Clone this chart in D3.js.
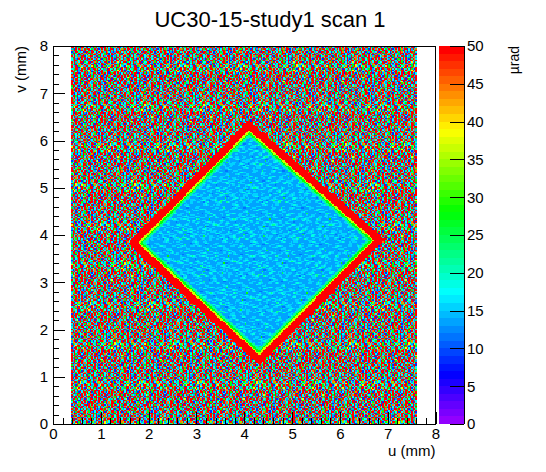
<!DOCTYPE html>
<html><head><meta charset="utf-8">
<script src="https://cdn.jsdelivr.net/npm/d3@7"></script>
<style>
body{margin:0;background:#fff}
text{font-family:"Liberation Sans",Arial,Helvetica,sans-serif;fill:#000}
</style>
</head><body>
<svg id="chart" width="546" height="472"></svg>
<script>
// ---------------- data ----------------
const title = "UC30-15-study1 scan 1";
const xLabel = "u (mm)";
const yLabel = "v (mm)";
const zLabel = "µrad";
const xTicks = [0, 1, 2, 3, 4, 5, 6, 7, 8];
const yTicks = [0, 1, 2, 3, 4, 5, 6, 7, 8];
const zTicks = [0, 5, 10, 15, 20, 25, 30, 35, 40, 45, 50];
const xDomain = [0, 8];
const yDomain = [0, 8];
const zDomain = [0, 50];
const nLevels = 50;

// scan grid (mm)
const binSize = 0.03;
const uRange = [0.38, 7.62];
const vRange = [0, 8];

// diamond (sample) corners, order: top, right, bottom, left (mm)
const diamondU = [4.10, 6.72, 4.31, 1.78];
const diamondV = [6.22, 3.89, 1.46, 3.83];
// red rim just outside the diamond (mm) and its value (µrad, above scale max)
const rimWidth = 0.15;
const rimValue = 55;
// thin bright edge just inside the diamond: depth (mm) -> value (µrad)
const edgeDepth = [0.03, 0.06, 0.10];
const edgeValue = [36, 27, 21];

// value (µrad) for each code digit
const bgCodeValue = [3, 8.5, 13.5, 17.5, 21.5, 27.5, 33.5, 38.5, 44.5, 55];
const inCodeValue = [9.5, 11.5, 13.5, 15.5, 18.5, 21.5, 24.5, 28.5, 34.5, 48];

// background (outside the sample) noise patch, read as codes
const bgRows = [
"93279519340859326918259732174693291583829",
"28391593249913562839951726349952913869392",
"59932914039529983192349958329193952891934",
"39192859392399513949272939915394928399153",
"92839951923949582913993592849132995394925",
"19593298391559293921949839259935921949392",
"93924939158299394925193829391549932819593",
"48993291593923995132949839925193948259913",
"93159924993859213992539193849952939192953",
"29593819392459913929389519329929153949289",
"95299314939529839212995938493915299423919",
"39192599328399519493923599149382993519294",
"99352929149395829913929485939925193928395",
"13929593299194939528399139259499392519939",
"92593849923195993912959392849913593929153",
"39913529394919959329391592839952919394929",
"59329193995249319929539198329593992319589",
"29959392819349925939129959324939152993719",
"93192599392859139929593219939459393925919",
"19593929931592949935929193992859319929349",
"94329519392749913959293919259392899519392",
"39159929493958219939529931959249391929958",
"93925193995939159249399213929593958913929",
"59939213949293959919329592849939129593919",
"36929749593129953923969293819529399263915",
"92457939219369395129935947923959139425993",
"49395219729593459923959319529969393528193",
"93519629399539249913799359299524939193579"
];

// inside the diamond: smoother patch, read as codes
const inRows = [
"22332213342222333452225432223322233222332",
"2333322234432212334522554322233222233322",
"223322233343222223222244322232263323332223",
"22212333333222332222262322234432333223222",
"3222234432222333322233322211233332222232",
"332222432222234432223343222322333222333322",
"33322233222212343222455322333222222334432",
"2332222222322223222222542233432223223443",
"222223332223342222332222222333223332233222",
"22233443222343222333422233222223332711222",
"3223455432223322223443223432222232222233",
"332234432222223222233222234422232223334332",
"32222332233222212222222232332233222334432",
"2222222234432222333322222244234322223332",
"223222233454322334433222224532222227222222",
"23432211234322223332222333332222333222322",
"2343233222222222222222334432222343322233",
"223224432222233322232233322222223322224322",
"22222332222334432233322262222232212223543",
"3322222222223332222222222334222222222233",
"433222322222222222332222334322223322222222",
"33222343322233322343222222322223443322223",
"2222233322252222233432222112222333222222",
"223322222122333222244322223332222222332222",
"32333222222223344322233322222222223343222",
"2222222333222222233322222322332222222344"
];

// ---------------- layout ----------------
const svg = d3.select("#chart");
const frame = {left: 53, right: 435.5, top: 46, bottom: 424};
const bar = {left: 439, right: 464};

const x = d3.scaleLinear().domain(xDomain).range([frame.left, frame.right]);
const y = d3.scaleLinear().domain(yDomain).range([frame.bottom, frame.top]);
const z = d3.scaleLinear().domain(zDomain).range([frame.bottom, frame.top]);

// ROOT "pretty" rainbow palette, 50 levels
const levelColor = i => d3.hsl(280 - (i + 1) * (280 / nLevels), 1, 0.5).formatHex();
const valueColor = v => {
  let i = Math.floor((v - zDomain[0]) / (zDomain[1] - zDomain[0]) * nLevels);
  i = Math.max(0, Math.min(nLevels - 1, i));
  return levelColor(i);
};

// signed distance to diamond (positive outside), mm
const edges = diamondU.map((u0, k) => {
  const k1 = (k + 1) % diamondU.length;
  const dx = diamondU[k1] - u0, dy = diamondV[k1] - diamondV[k];
  const L = Math.hypot(dx, dy);
  return {u0, v0: diamondV[k], nx: -dy / L, ny: dx / L};
});
const sdist = (u, v) => d3.max(edges, e => (u - e.u0) * e.nx + (v - e.v0) * e.ny);

const tileCode = (rows, shift, i, j) => {
  const r = rows[j % rows.length];
  const blk = Math.floor(j / rows.length);
  return +r[(i + blk * shift) % r.length];
};

function cellValue(i, j, u, v) {
  const d = sdist(u, v);
  if (d > rimWidth) return bgCodeValue[tileCode(bgRows, 17, i, j)];
  if (d > 0) return rimValue;
  for (let k = 0; k < edgeDepth.length; k++) if (-d < edgeDepth[k]) return edgeValue[k];
  return inCodeValue[tileCode(inRows, 13, i, j)];
}

// ---------------- heat map ----------------
const nU = Math.round((uRange[1] - uRange[0]) / binSize);
const nV = Math.ceil((vRange[1] - vRange[0]) / binSize);
const cells = [];
for (let j = 0; j < nV; j++) {
  const v0 = vRange[0] + j * binSize, v1 = Math.min(vRange[1], v0 + binSize);
  const yt = Math.round(y(v1)), yb = Math.round(y(v0));
  if (yb <= yt) continue;
  let runStart = null, runColor = null;
  for (let i = 0; i <= nU; i++) {
    let col = null;
    if (i < nU) {
      const u0 = uRange[0] + i * binSize;
      col = valueColor(cellValue(i, j, u0 + binSize / 2, (v0 + v1) / 2));
    }
    if (col !== runColor) {
      if (runColor !== null) {
        const xa = Math.round(x(uRange[0] + runStart * binSize));
        const xb = Math.round(x(uRange[0] + i * binSize));
        cells.push({x: xa, y: yt, w: xb - xa, h: yb - yt, c: runColor});
      }
      runStart = i; runColor = col;
    }
  }
}
svg.append("g").attr("shape-rendering", "crispEdges")
  .selectAll("rect").data(cells).join("rect")
  .attr("x", d => d.x).attr("y", d => d.y)
  .attr("width", d => d.w).attr("height", d => d.h)
  .attr("fill", d => d.c);

// ---------------- frame & axes ----------------
svg.append("rect").attr("x", frame.left).attr("y", frame.top)
  .attr("width", frame.right - frame.left).attr("height", frame.bottom - frame.top)
  .attr("fill", "none").attr("stroke", "#000").attr("stroke-width", 1)
  .attr("shape-rendering", "crispEdges");

const minorX = d3.range(0, 8.0001, 0.2).filter(t => Math.abs(t - Math.round(t)) > 1e-6);
const minorY = minorX;

const styleAxis = g => {
  g.select(".domain").remove();
  g.selectAll("line").attr("stroke", "#000").attr("shape-rendering", "crispEdges");
  g.selectAll("text").style("font-size", "15px").attr("fill", "#000");
};

svg.append("g").attr("transform", `translate(0,${frame.bottom})`)
  .call(d3.axisBottom(x).tickValues(xTicks).tickSize(-12).tickPadding(4).tickFormat(d3.format("d")))
  .call(styleAxis);
svg.append("g").attr("transform", `translate(0,${frame.bottom})`)
  .call(d3.axisBottom(x).tickValues(minorX).tickSize(-6).tickFormat(""))
  .call(styleAxis);
svg.append("g").attr("transform", `translate(${frame.left},0)`)
  .call(d3.axisLeft(y).tickValues(yTicks).tickSize(-12).tickPadding(5).tickFormat(d3.format("d")))
  .call(styleAxis);
svg.append("g").attr("transform", `translate(${frame.left},0)`)
  .call(d3.axisLeft(y).tickValues(minorY).tickSize(-6).tickFormat(""))
  .call(styleAxis);

// ---------------- color bar ----------------
const levels = d3.range(nLevels);
const step = (zDomain[1] - zDomain[0]) / nLevels;
svg.append("g").attr("shape-rendering", "crispEdges")
  .selectAll("rect").data(levels).join("rect")
  .attr("x", bar.left).attr("width", bar.right - bar.left)
  .attr("y", i => Math.round(z(zDomain[0] + (i + 1) * step)))
  .attr("height", i => Math.round(z(zDomain[0] + i * step)) - Math.round(z(zDomain[0] + (i + 1) * step)))
  .attr("fill", i => levelColor(i));
svg.append("line").attr("x1", bar.right).attr("x2", bar.right)
  .attr("y1", frame.top).attr("y2", frame.bottom).attr("stroke", "#000")
  .attr("shape-rendering", "crispEdges");
svg.append("g").attr("transform", `translate(${bar.right},0)`)
  .call(d3.axisRight(z).tickValues(zTicks).tickSize(-14).tickPadding(3).tickFormat(d3.format("d")))
  .call(styleAxis);

// ---------------- titles ----------------
svg.append("text").attr("x", 270).attr("y", 27).attr("text-anchor", "middle")
  .style("font-size", "22px").text(title);
svg.append("text").attr("x", frame.right).attr("y", 456).attr("text-anchor", "end")
  .style("font-size", "15px").text(xLabel);
svg.append("text").attr("transform", `translate(26,${frame.top}) rotate(-90)`)
  .attr("text-anchor", "end").style("font-size", "15px").text(yLabel);
svg.append("text").attr("transform", `translate(519,${frame.top}) rotate(-90)`)
  .attr("text-anchor", "end").style("font-size", "14px").text(zLabel);
</script>
</body></html>
